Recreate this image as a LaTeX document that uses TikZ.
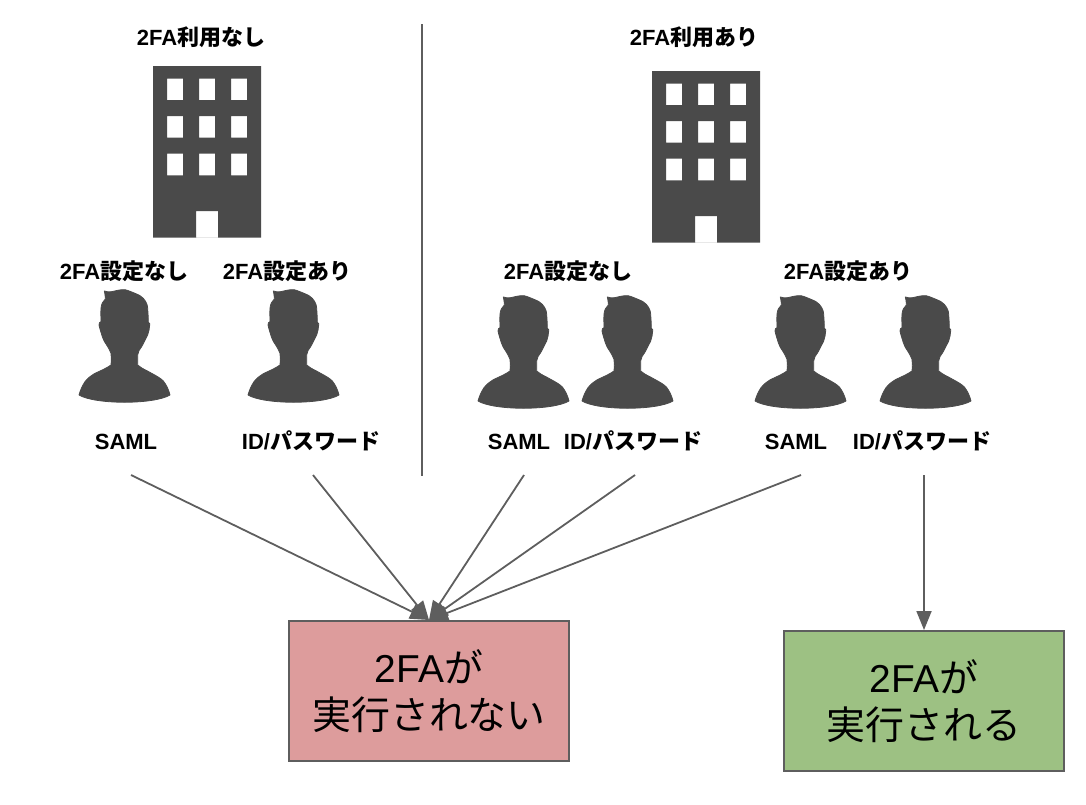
\documentclass[tikz,border=0pt]{standalone}
\usepackage{fontspec}
\setmainfont{Liberation Sans}
\newfontfamily\cjk{Noto Sans CJK JP}
\usetikzlibrary{arrows.meta}
\definecolor{icon}{HTML}{4A4A4A}
\definecolor{linec}{HTML}{5E5E5E}
\definecolor{redbox}{HTML}{DD9C9C}
\definecolor{greenbox}{HTML}{9DC183}
\newcommand{\jp}[1]{{\cjk #1}}
\tikzset{
  lab/.style={font=\fontsize{22}{24}\selectfont\bfseries, inner sep=0pt, text height=19pt, text depth=2pt, anchor=center, text=black},
  resultbox/.style={draw=linec, line width=2pt, minimum width=280pt, minimum height=140pt, inner sep=0pt, align=center, text=black, font=\fontsize{38.9}{47}\selectfont},
  arrowline/.style={draw=linec, line width=1.8pt, -{Triangle[length=19pt,width=15pt]}},
  divider/.style={draw=linec, line width=1.6pt},
  person/.pic={
    \filldraw[icon, line width=0.8pt, line join=round, scale=1/3] (76,6) .. controls (84,9) and (90,9) .. (98,8)
      .. controls (112,5) and (125,1) .. (138,2)
      .. controls (150,5) and (158,9) .. (168,13)
      .. controls (180,18) and (188,22) .. (193,28)
      .. controls (203,40) and (206,50) .. (206,58)
      .. controls (207,72) and (208,88) .. (208,100)
      .. controls (212,102) and (213,104) .. (212,108)
      .. controls (211,118) and (210,128) .. (206,138)
      .. controls (200,150) and (195,160) .. (188,173)
      .. controls (182,180) and (177,188) .. (176,198)
      .. controls (176,208) and (176,218) .. (176,228)
      .. controls (190,240) and (205,245) .. (218,253)
      .. controls (235,262) and (245,268) .. (253,276)
      .. controls (263,288) and (270,305) .. (273,318)
      .. controls (225,347) and (48,347) .. (0,318)
      .. controls (4,303) and (10,290) .. (18,278)
      .. controls (27,266) and (38,259) .. (48,253)
      .. controls (65,245) and (82,238) .. (96,228)
      .. controls (97,218) and (97,205) .. (96,193)
      .. controls (92,183) and (88,175) .. (83,168)
      .. controls (76,158) and (72,150) .. (70,143)
      .. controls (66,130) and (62,118) .. (60,108)
      .. controls (60,102) and (62,99) .. (66,98)
      .. controls (66,85) and (65,72) .. (66,58)
      .. controls (67,45) and (72,36) .. (79,30)
      .. controls (79,22) and (78,14) .. (76,6) -- cycle;
  },
  building/.pic={
    \fill[icon, even odd rule] (0,0) rectangle (108,171.5)
      (14,12.7) rectangle (30,34) (46,12.7) rectangle (62,34) (78,12.7) rectangle (94,34)
      (14,50) rectangle (30,71.7) (46,50) rectangle (62,71.7) (78,50) rectangle (94,71.7)
      (14,87.7) rectangle (30,109.3) (46,87.7) rectangle (62,109.3) (78,87.7) rectangle (94,109.3)
      (43,145) rectangle (65,171.5);
  }
}
\begin{document}
\begin{tikzpicture}[x=1pt,y=-1pt]
\useasboundingbox (0,0) rectangle (1086,804);
% titles
\node[lab] (t1) at (201,37) {2FA\jp{利用なし}};
\node[lab] (t2) at (694,37) {2FA\jp{利用あり}};
% divider
\coordinate (d1) at (422,24);
\coordinate (d2) at (422,476);
\draw[divider] (d1) -- (d2);
% buildings
\pic (b1) at (153,66) {building};
\pic (b2) at (652,71) {building};
% setting labels
\node[lab] (s1) at (124,271) {2FA\jp{設定なし}};
\node[lab] (s2) at (287,271) {2FA\jp{設定あり}};
\node[lab] (s3) at (568,271) {2FA\jp{設定なし}};
\node[lab] (s4) at (848,271) {2FA\jp{設定あり}};
% people
\pic (p1) at (79,289) {person};
\pic (p2) at (248,289) {person};
\pic (p3) at (478,295) {person};
\pic (p4) at (582,295) {person};
\pic (p5) at (755,295) {person};
\pic (p6) at (880,295) {person};
% auth labels
\node[lab] (a1) at (126,441) {SAML};
\node[lab] (a2) at (311,441) {ID/\jp{パスワード}};
\node[lab] (a3) at (519,441) {SAML};
\node[lab] (a4) at (633,441) {ID/\jp{パスワード}};
\node[lab] (a5) at (796,441) {SAML};
\node[lab] (a6) at (922,441) {ID/\jp{パスワード}};
% result boxes
\node[resultbox, fill=redbox] (no) at (429,691) {2FA\jp{が}\\\jp{実行されない}};
\node[resultbox, fill=greenbox] (yes) at (924,701) {2FA\jp{が}\\\jp{実行される}};
% arrow starts
\coordinate (c1) at (131,475);
\coordinate (c2) at (313,475);
\coordinate (c3) at (524,475);
\coordinate (c4) at (635,475);
\coordinate (c5) at (801,475);
\coordinate (c6) at (924,475);
\draw[arrowline] (c1) -- (no.north);
\draw[arrowline] (c2) -- (no.north);
\draw[arrowline] (c3) -- (no.north);
\draw[arrowline] (c4) -- (no.north);
\draw[arrowline] (c5) -- (no.north);
\draw[arrowline] (c6) -- (yes.north);
\end{tikzpicture}
\end{document}
